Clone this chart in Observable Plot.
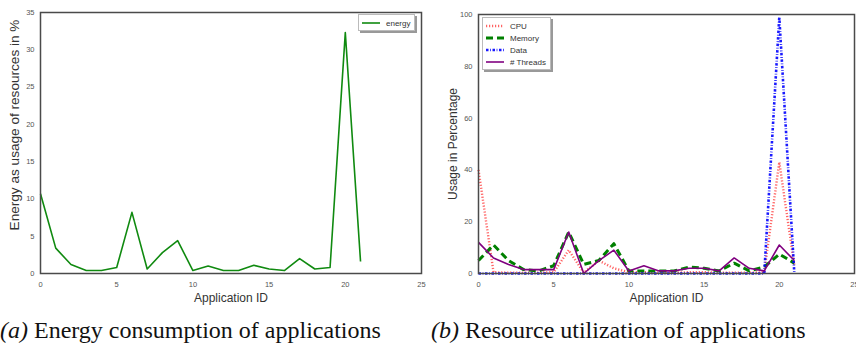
<!DOCTYPE html>
<html>
<head>
<meta charset="utf-8">
<script src="https://cdn.jsdelivr.net/npm/d3@7"></script>
<script src="https://cdn.jsdelivr.net/npm/@observablehq/plot@0.6"></script>
<style>
  html, body { margin: 0; padding: 0; background: #fff; }
  #wrap { position: relative; width: 856px; height: 347px; overflow: hidden; font-family: "Liberation Sans", Arial, sans-serif; }
  .chart { position: absolute; top: 0; }
  .chart svg { overflow: visible; }
  g[aria-label="x-axis tick label"] text, g[aria-label="y-axis tick label"] text { font-size: 7.5px; fill: #555; }
  g[aria-label="x-axis label"] text, g[aria-label="y-axis label"] text { font-size: 12px; fill: #333; }
  #left g[aria-label="y-axis label"] text { font-size: 13.6px; }
  .legend { position: absolute; background: #fff; border: 1px solid #bbb; box-shadow: 2px 2px 0 #999; font-size: 8px; color: #333; padding: 2px 4px 1px 3px; }
  .legend .item { display: flex; align-items: center; height: 12px; }
  .legend svg { margin-right: 6px; }
  .caption { position: absolute; font-family: "Liberation Serif", "Times New Roman", serif; font-size: 24px; color: #111; white-space: nowrap; line-height: 1; }
</style>
</head>
<body>
<div id="wrap">
  <div class="chart" id="left" style="left:0px"></div>
  <div class="chart" id="right" style="left:430px"></div>
  <div class="legend" id="legA" style="left:358px; top:14px;"></div>
  <div class="legend" id="legB" style="left:482px; top:17px;"></div>
  <div class="caption" id="capA" style="left:0px; top:318px;"></div>
  <div class="caption" id="capB" style="left:431px; top:318px;"></div>
</div>
<script>
// ---- data ----
const appIds = [0,1,2,3,4,5,6,7,8,9,10,11,12,13,14,15,16,17,18,19,20,21];
const energy = [10.7,3.4,1.2,0.4,0.4,0.8,8.2,0.6,2.8,4.4,0.4,1.0,0.4,0.4,1.1,0.6,0.4,2.0,0.6,0.8,32.3,1.6];
const cpu = [40,0.5,0.3,0.3,0.3,0.5,9,0.3,5,2,0.5,0.5,0.3,0.3,0.5,0.5,0.3,0.3,0.3,0.5,43,3];
const memory = [5,11,5,1.5,1,3,16,3.5,5,11.5,1,1,1,1,2.5,2,1,4,1,2.5,7.5,4];
const dataUse = [0,0,0,0,0,0,0,0,0,0,0,0,0,0,0,0,0,0,0,0,99,0];
const threads = [12,6,3.5,1.5,1.5,1.5,16,0,5,9,1,3,1,1,2,2,1,6,2,1,11,5];
const xTicks = [0,5,10,15,20,25];
const yTicksA = [0,5,10,15,20,25,30,35];
const yTicksB = [0,20,40,60,80,100];
const seriesNames = ["CPU","Memory","Data","# Threads"];
const captionA = ["(a)", " Energy consumption of applications"];
const captionB = ["(b)", " Resource utilization of applications"];

// ---- styles ----
const styles = {
  "energy":    {stroke: "#108a10", strokeWidth: 1.6, dash: null, opacity: 1},
  "CPU":       {stroke: "#ff3030", strokeWidth: 2.4, dash: "1.2,1.8", opacity: 0.75},
  "Memory":    {stroke: "#008000", strokeWidth: 3, dash: "7,4", opacity: 1},
  "Data":      {stroke: "#0000ff", strokeWidth: 2.6, dash: "2.5,1.6,0.8,1.6", opacity: 0.9},
  "# Threads": {stroke: "#800080", strokeWidth: 1.6, dash: null, opacity: 1}
};

const energyRows = appIds.map((id, i) => ({id, v: energy[i]}));
const seriesVals = [cpu, memory, dataUse, threads];
const resRows = seriesNames.map((s, k) => appIds.map((id, i) => ({id, v: seriesVals[k][i], s})));

function lineMark(rows, name) {
  const st = styles[name];
  return Plot.line(rows, {x: "id", y: "v", stroke: st.stroke, strokeWidth: st.strokeWidth,
    strokeDasharray: st.dash, strokeOpacity: st.opacity, strokeLinejoin: "round", strokeLinecap: "butt"});
}

const left = Plot.plot({
  width: 430, height: 303,
  marginLeft: 40, marginRight: 9, marginTop: 12, marginBottom: 30,
  style: {fontFamily: "'Liberation Sans', Arial, sans-serif", background: "transparent"},
  x: {domain: [0, 25], ticks: xTicks, tickSize: 0, tickPadding: 8, label: "Application ID", labelAnchor: "center", labelOffset: 28, labelArrow: "none"},
  y: {domain: [0, 35], ticks: yTicksA, tickSize: 0, tickPadding: 6, label: "Energy as usage of resources in %", labelAnchor: "center", labelOffset: 30, labelArrow: "none"},
  marks: [
    lineMark(energyRows, "energy"),
    Plot.frame({stroke: "#4a4a4a", strokeWidth: 1.5})
  ]
});
document.getElementById("left").appendChild(left);
// shift the left y-axis label upward like the reference
{
  const g = left.querySelector('g[aria-label="y-axis label"]');
  if (g) {
    const t = g.getAttribute("transform") || "";
    g.setAttribute("transform", t + " translate(-1,-18)");
  }
}

const right = Plot.plot({
  width: 426, height: 303,
  marginLeft: 48, marginRight: 2, marginTop: 14, marginBottom: 30,
  style: {fontFamily: "'Liberation Sans', Arial, sans-serif", background: "transparent"},
  x: {domain: [0, 25], ticks: xTicks, tickSize: 0, tickPadding: 8, label: "Application ID", labelAnchor: "center", labelOffset: 28, labelArrow: "none"},
  y: {domain: [0, 100], ticks: yTicksB, tickSize: 0, tickPadding: 6, label: "Usage in Percentage", labelAnchor: "center", labelOffset: 30, labelArrow: "none"},
  marks: [
    lineMark(resRows[0], "CPU"),
    lineMark(resRows[1], "Memory"),
    lineMark(resRows[2], "Data"),
    lineMark(resRows[3], "# Threads"),
    Plot.frame({stroke: "#4a4a4a", strokeWidth: 1.5})
  ]
});
document.getElementById("right").appendChild(right);

// ---- legends ----
function buildLegend(el, names, sw) {
  for (const n of names) {
    const st = styles[n];
    const item = document.createElement("div");
    item.className = "item";
    const ns = "http://www.w3.org/2000/svg";
    const svg = document.createElementNS(ns, "svg");
    svg.setAttribute("width", sw); svg.setAttribute("height", 8);
    const ln = document.createElementNS(ns, "line");
    ln.setAttribute("x1", 0); ln.setAttribute("x2", sw);
    ln.setAttribute("y1", 4); ln.setAttribute("y2", 4);
    ln.setAttribute("stroke", st.stroke);
    ln.setAttribute("stroke-width", st.strokeWidth);
    ln.setAttribute("stroke-opacity", st.opacity);
    if (st.dash) ln.setAttribute("stroke-dasharray", st.dash);
    svg.appendChild(ln);
    item.appendChild(svg);
    const t = document.createElement("span");
    t.textContent = n;
    item.appendChild(t);
    el.appendChild(item);
  }
}
buildLegend(document.getElementById("legA"), ["energy"], 18);
buildLegend(document.getElementById("legB"), seriesNames, 18);

// ---- captions ----
function caption(el, parts) {
  const i = document.createElement("i"); i.textContent = parts[0];
  el.appendChild(i);
  el.appendChild(document.createTextNode(parts[1]));
}
caption(document.getElementById("capA"), captionA);
caption(document.getElementById("capB"), captionB);
</script>
</body>
</html>
